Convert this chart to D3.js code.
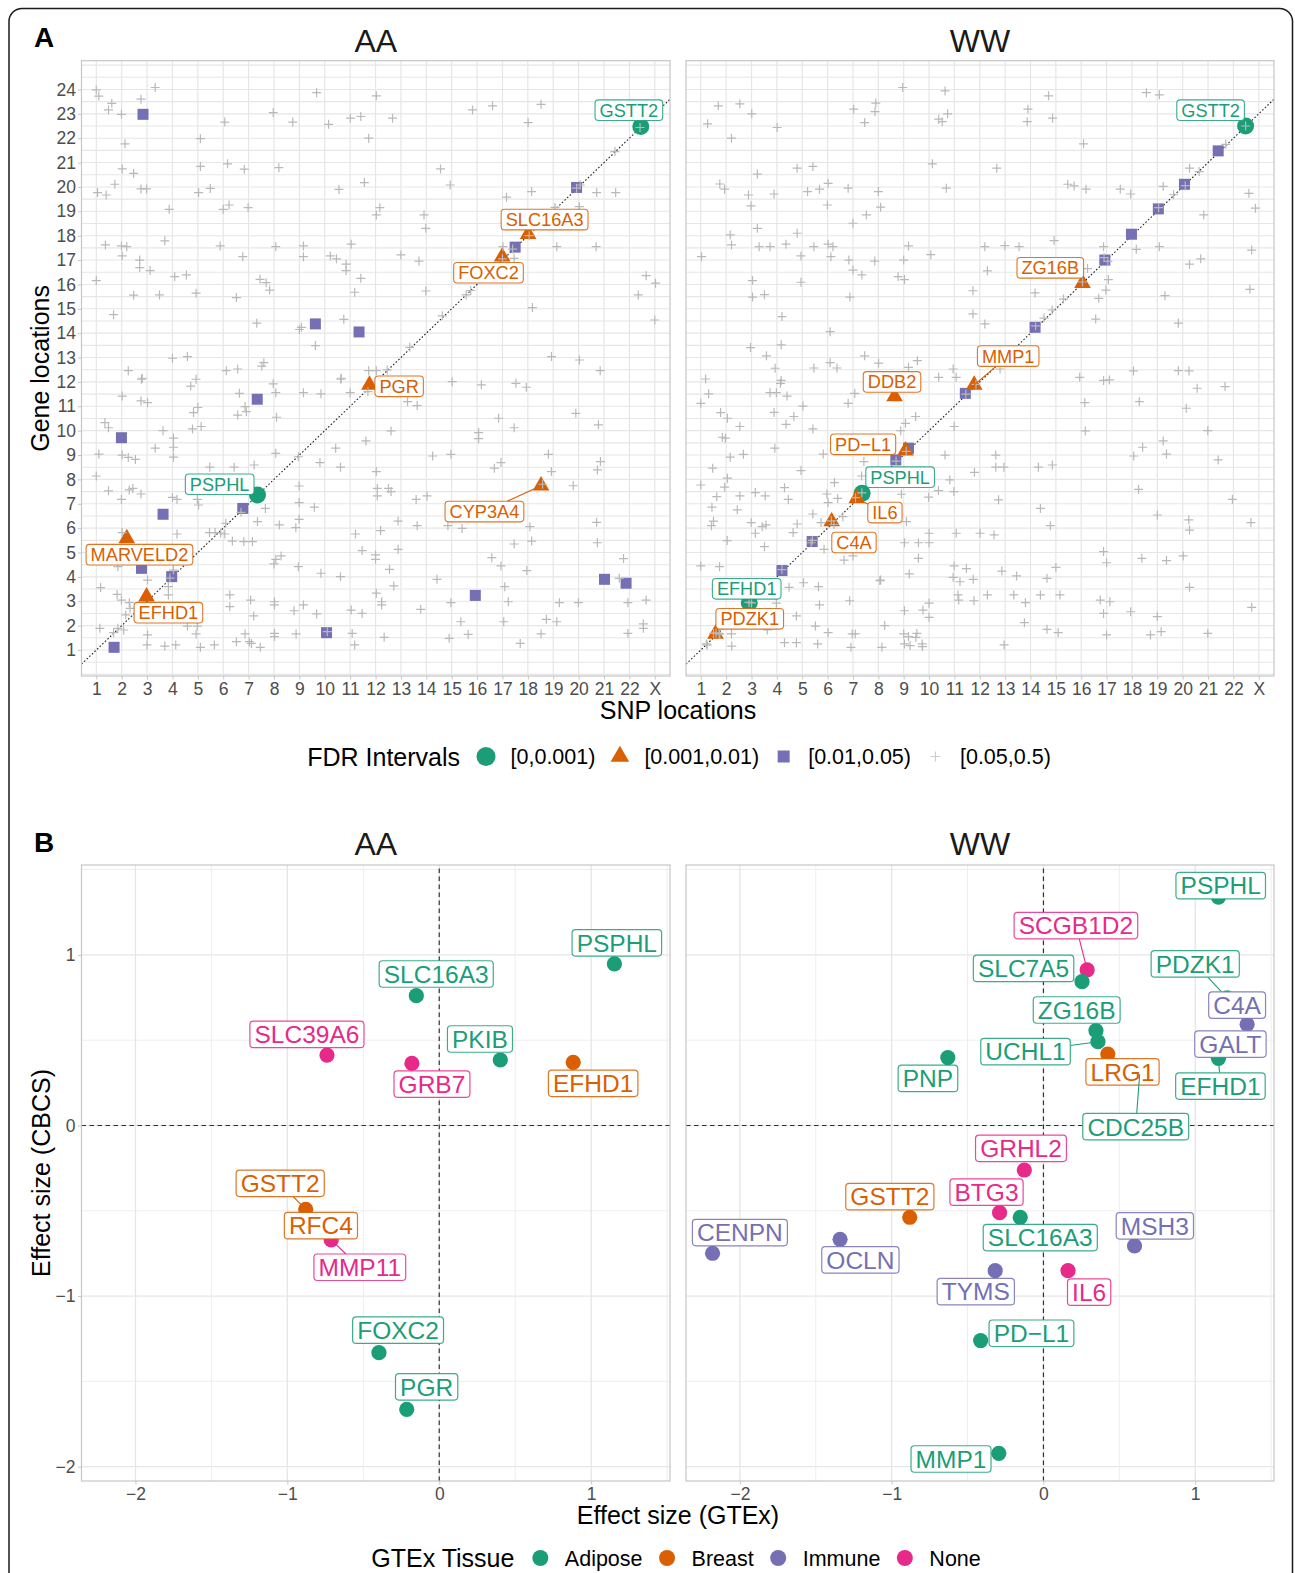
<!DOCTYPE html>
<html><head><meta charset="utf-8">
<script src="https://cdn.jsdelivr.net/npm/d3@7"></script>
<style>
body{margin:0;background:#fff}
svg{display:block}
text{font-family:"Liberation Sans",Arial,Helvetica,sans-serif}
</style>
</head><body>
<svg id="chart" width="1295" height="1573"></svg>
<script>
// ---------------- DATA ----------------
const xTickLabels = ["1","2","3","4","5","6","7","8","9","10","11","12","13","14","15","16","17","18","19","20","21","22","X"];
const yTickValuesA = d3.range(1, 25);
const fdrLevels = ["[0,0.001)", "[0.001,0.01)", "[0.01,0.05)", "[0.05,0.5)"];
const tissues = ["Adipose", "Breast", "Immune", "None"];
const bTicks = [-2, -1, 0, 1];

// Panel A, AA: significant eQTL (gene, FDR level index, SNP location, gene location)
const aaSig = [
  ["GSTT2",0,22.45,22.48],["PSPHL",0,7.35,7.36],
  ["MARVELD2",1,2.2,5.58],["EFHD1",1,2.98,3.19],["PGR",1,11.76,11.88],
  ["FOXC2",1,16.99,17.14],["SLC16A3",1,18.01,18.06],["CYP3A4",1,18.52,7.74]
];
const aaSquares = [[2.84,22.98],[9.63,14.38],[11.35,14.05],[17.5,17.53],[19.92,19.98],[1.99,9.71],[7.34,11.29],[3.63,6.57],[6.77,6.81],[2.78,4.35],[3.97,4.01],[1.7,1.11],[10.07,1.71],[15.93,3.24],[21.02,3.9],[21.87,3.74]];
const aaCross = [[1.0,23.98],[1.1,23.73],[1.61,23.43],[1.48,23.16],[1.99,22.98],[2.76,23.6],[3.32,24.08],[2.13,21.77],[2.02,20.74],[2.47,20.56],[1.73,20.11],[1.05,19.77],[1.39,19.67],[2.76,19.92],[2.98,19.92],[3.87,19.08],[1.36,17.62],[1.99,17.58],[2.2,17.55],[2.02,17.17],[2.71,17.0],[2.71,16.69],[3.12,16.57],[3.7,17.79],[1.0,16.16],[1.68,14.76],[2.47,15.56],[3.49,15.57],[4.09,16.32],[4.55,16.39],[4.93,15.64],[5.1,21.98],[5.1,20.84],[5.03,19.77],[5.49,19.94],[6.06,22.66],[6.17,20.95],[6.0,19.08],[6.23,19.26],[6.83,20.73],[6.98,19.15],[5.88,17.58],[6.77,17.14],[6.52,15.46],[7.83,15.77],[7.32,14.41],[7.97,23.05],[8.74,22.66],[8.19,20.79],[8.07,17.55],[9.16,17.58],[9.16,17.14],[7.45,16.21],[7.69,16.07],[9.68,23.87],[10.15,22.57],[11.01,22.82],[11.42,22.89],[11.73,22.0],[12.03,23.74],[12.67,22.82],[10.56,19.9],[11.56,20.18],[12.17,19.15],[12.03,18.85],[10.22,17.17],[10.46,17.05],[10.84,16.83],[10.84,16.57],[11.04,17.65],[11.42,16.25],[11.18,15.68],[10.75,14.57],[9.08,14.24],[9.0,14.15],[9.63,13.49],[13.0,17.21],[13.71,16.96],[13.91,18.85],[13.98,18.3],[13.98,15.73],[14.56,20.74],[14.94,20.08],[15.82,23.16],[16.61,23.33],[18.01,22.64],[18.52,23.39],[17.16,19.58],[18.15,19.81],[17.02,17.55],[17.4,17.45],[17.46,17.07],[17.0,17.05],[18.05,18.0],[18.18,15.05],[19.14,17.55],[19.07,19.16],[20.03,19.19],[19.92,19.95],[20.06,20.08],[20.69,17.55],[20.71,19.77],[21.46,19.77],[21.43,21.45],[22.42,22.44],[22.66,16.36],[23.03,16.05],[22.35,15.57],[23.0,14.54],[15.57,15.57],[15.75,15.75],[14.63,14.71],[13.35,13.42],[18.93,13.04],[20.03,12.9],[20.85,12.46],[4.0,12.97],[4.59,13.04],[2.26,12.46],[2.81,12.15],[6.12,12.46],[6.57,12.53],[7.52,12.65],[7.6,12.79],[11.73,12.46],[12.03,12.46],[12.46,12.49],[10.65,12.15],[2.78,12.11],[2.02,11.42],[2.76,11.22],[3.02,11.15],[4.72,11.83],[4.93,12.11],[7.97,11.92],[8.07,11.56],[9.16,11.56],[9.85,11.51],[10.63,12.11],[11.0,11.56],[11.7,11.6],[13.26,11.19],[13.64,11.03],[15.02,12.01],[16.17,11.88],[17.53,11.94],[17.94,11.78],[1.34,10.33],[1.48,10.12],[1.1,9.04],[1.0,8.14],[2.02,9.0],[2.26,8.9],[2.54,8.82],[1.48,7.53],[2.3,7.57],[2.44,7.63],[2.76,7.4],[1.99,7.18],[3.63,10.0],[3.32,9.28],[4.04,9.69],[4.04,9.32],[4.04,8.91],[4.83,10.74],[5.13,10.17],[4.79,10.07],[5.0,10.95],[4.0,7.26],[4.18,7.18],[4.98,7.18],[5.03,6.95],[5.47,8.5],[6.43,8.5],[4.18,5.76],[5.46,5.82],[5.68,5.82],[6.06,5.76],[6.36,5.47],[6.81,5.45],[7.15,5.45],[6.57,10.64],[6.91,10.78],[6.86,10.99],[6.64,11.53],[8.1,10.55],[7.22,8.59],[7.35,6.27],[7.66,6.81],[8.21,6.13],[8.07,9.07],[8.99,7.73],[8.99,7.05],[8.99,6.36],[8.86,6.02],[8.96,8.93],[9.81,8.69],[10.43,9.28],[10.62,8.5],[9.59,6.86],[11.21,5.76],[11.47,5.08],[12.0,4.9],[12.0,4.72],[12.55,4.31],[12.72,3.63],[12.89,5.13],[12.03,8.32],[12.07,7.63],[12.07,7.32],[12.51,7.63],[12.61,7.5],[12.2,5.9],[12.89,6.29],[11.62,9.58],[12.61,9.99],[13.6,7.18],[14.03,7.32],[13.64,6.1],[14.25,8.96],[14.97,9.03],[14.85,6.1],[15.41,5.99],[14.42,3.9],[14.97,2.94],[15.36,2.16],[14.9,1.48],[15.65,1.64],[16.06,9.92],[16.06,9.67],[16.68,8.46],[16.94,8.69],[16.85,10.51],[17.46,10.12],[16.58,4.79],[16.94,4.45],[17.46,5.35],[18.08,6.06],[18.15,5.47],[17.96,4.26],[17.09,3.6],[17.23,2.98],[17.05,2.16],[17.7,1.27],[18.52,1.66],[18.73,2.26],[19.14,2.16],[19.24,2.94],[19.99,2.94],[18.58,7.8],[18.81,9.03],[18.93,8.32],[19.79,7.74],[19.89,10.71],[20.78,10.24],[20.86,8.73],[20.74,8.39],[20.71,6.24],[20.74,5.4],[21.77,4.75],[21.6,3.94],[21.94,2.94],[21.94,1.68],[22.66,3.05],[22.55,2.07],[22.55,1.89],[1.17,3.56],[1.82,3.28],[1.99,3.05],[2.3,2.94],[2.33,2.71],[2.16,2.44],[1.14,1.89],[1.68,1.71],[1.85,1.89],[2.08,1.82],[1.85,4.42],[2.02,5.82],[3.02,3.87],[3.84,3.26],[3.84,3.6],[4.04,4.28],[3.9,3.95],[3.02,1.62],[3.0,1.21],[3.7,1.16],[4.13,1.21],[4.59,1.98],[4.98,1.98],[4.93,1.66],[5.1,1.11],[5.65,1.21],[5.9,5.8],[6.1,6.2],[6.7,6.65],[6.26,3.26],[6.26,2.78],[6.52,1.34],[7.03,1.34],[7.11,1.27],[6.86,1.66],[7.46,1.11],[7.08,3.05],[7.2,2.4],[8.02,1.68],[8.02,1.55],[8.02,2.98],[8.02,2.85],[8.0,4.53],[8.07,4.72],[8.28,4.86],[8.79,2.61],[9.16,2.85],[8.87,1.66],[8.96,4.42],[9.68,2.48],[9.85,4.15],[10.62,4.01],[10.1,1.75],[11.04,2.64],[11.47,2.5],[11.08,1.68],[11.18,1.21],[12.03,3.33],[12.24,2.98],[12.24,2.85],[12.34,1.52],[13.78,2.67]];
const aaLabels = [["GSTT2",21.98,23.15],["SLC16A3",18.66,18.66],["FOXC2",16.45,16.48],["PGR",12.93,11.82],["PSPHL",5.86,7.8],["CYP3A4",16.29,6.68],["MARVELD2",2.7,4.91],["EFHD1",3.84,2.53]];

// Panel A, WW
const wwSig = [
  ["GSTT2",0,22.48,22.5],["PSPHL",0,7.36,7.43],["EFHD1",0,2.91,2.94],
  ["ZG16B",1,16.05,16.05],["MMP1",1,11.78,11.88],["DDB2",1,8.64,11.4],["PD\u2212L1",1,9.07,9.18],
  ["IL6",1,7.15,7.22],["C4A",1,6.16,6.27],["PDZK1",1,1.58,1.66]
];
const wwSquares = [[21.4,21.48],[20.07,20.11],[19.04,19.1],[17.98,18.06],[16.93,17.0],[14.18,14.24],[11.43,11.53],[9.19,9.28],[8.69,8.8],[5.39,5.45],[4.2,4.26]];
const wwCross = [[8.96,24.08],[10.63,23.94],[1.69,23.33],[2.54,23.41],[3.01,23.0],[1.27,22.59],[2.21,22.0],[4.01,22.44],[7.03,23.19],[7.9,23.44],[7.87,23.09],[7.46,22.64],[10.38,22.78],[10.52,22.68],[10.73,23.0],[13.9,23.19],[13.87,22.68],[14.87,22.82],[14.71,23.74],[18.57,23.87],[19.08,23.78],[16.09,21.77],[10.13,20.95],[12.67,20.77],[4.8,20.77],[5.42,20.84],[3.23,20.53],[1.75,20.12],[1.94,19.91],[2.88,19.67],[3.89,19.71],[5.21,19.81],[5.68,19.91],[6.02,20.15],[6.81,19.95],[8.0,19.81],[10.68,19.95],[15.47,20.11],[15.72,20.04],[16.19,19.91],[17.54,19.91],[17.95,19.71],[19.23,20.02],[22.61,19.74],[22.87,19.13],[20.83,18.85],[2.98,19.22],[5.99,19.26],[7.53,18.85],[8.09,19.17],[7.0,18.51],[3.23,18.3],[2.16,18.03],[2.21,17.62],[3.3,17.55],[3.73,17.55],[4.36,17.65],[5.46,17.55],[6.02,17.65],[6.21,17.55],[4.95,17.17],[6.13,17.14],[1.03,17.14],[4.8,18.1],[9.19,17.58],[6.84,17.0],[7.86,16.96],[9.0,17.0],[7.0,16.59],[7.35,16.39],[8.78,16.32],[9.03,16.2],[3.04,16.16],[4.95,16.09],[3.04,15.48],[3.51,15.58],[6.88,15.48],[10.07,17.22],[12.2,17.55],[12.99,17.59],[13.55,17.55],[14.93,17.8],[12.3,16.56],[11.73,15.74],[14.18,15.65],[11.73,14.79],[12.2,14.38],[16.57,14.58],[16.88,17.55],[18.17,17.44],[19.08,17.55],[20.27,16.83],[20.71,17.05],[22.72,17.41],[17.07,16.2],[16.97,15.77],[16.69,15.43],[19.3,15.54],[19.83,14.41],[22.65,15.8],[19.64,19.68],[20.27,20.77],[20.65,20.63],[16.25,16.65],[14.53,14.62],[14.85,14.95],[15.3,15.4],[22.48,22.5],[21.7,21.75],[20.1,20.05],[19.05,19.15],[16.9,17.1],[17.05,16.95],[16.05,16.1],[14.2,14.3],[11.45,11.5],[11.85,11.9],[9.1,9.15],[8.7,8.75],[7.35,7.45],[7.1,7.25],[6.15,6.3],[6.25,6.15],[5.4,5.5],[5.35,5.4],[4.2,4.3],[2.9,2.95],[3.0,2.93],[1.6,1.7],[1.75,1.65],[1.25,1.2],[4.2,14.68],[6.1,14.06],[2.96,13.41],[3.59,13.07],[4.17,13.52],[3.93,12.56],[7.46,13.07],[8.01,12.77],[9.54,12.87],[5.46,12.57],[6.1,12.79],[6.37,12.57],[9.19,12.6],[4.17,12.06],[1.19,12.12],[12.8,12.53],[15.94,12.19],[16.88,12.06],[17.11,12.08],[18.06,12.45],[19.83,12.46],[20.25,12.45],[20.57,11.74],[21.67,11.81],[10.95,12.53],[10.38,12.19],[11.07,12.19],[1.31,11.51],[1.0,11.12],[4.14,11.94],[3.73,11.56],[3.98,11.56],[4.4,11.42],[1.78,10.74],[2.05,10.51],[2.54,10.17],[1.85,9.73],[1.97,9.69],[3.89,10.75],[4.36,10.26],[4.67,10.58],[5.03,11.01],[5.42,10.07],[3.92,9.28],[2.16,8.91],[2.68,9.03],[1.47,8.46],[2.05,8.05],[1.94,7.68],[1.0,7.77],[1.63,7.29],[2.54,7.32],[3.15,7.46],[3.54,7.32],[4.3,7.66],[4.45,7.18],[1.44,6.86],[2.44,6.75],[1.5,6.29],[1.42,6.1],[2.99,6.23],[3.42,6.06],[3.57,6.13],[3.15,5.79],[4.8,6.17],[4.64,5.82],[2.04,5.49],[3.51,5.24],[5.42,6.58],[4.95,8.36],[5.83,9.04],[6.81,11.12],[7.07,11.53],[8.88,10.0],[9.07,10.3],[9.47,10.58],[7.43,8.73],[7.97,8.14],[7.34,8.14],[6.27,7.87],[5.97,7.4],[6.4,7.22],[6.02,7.05],[5.74,6.23],[6.6,6.47],[6.65,4.69],[7.0,4.86],[5.86,5.13],[8.91,7.39],[9.11,6.27],[9.03,5.4],[9.58,5.4],[10.0,5.4],[10.0,5.79],[9.58,4.76],[9.22,4.12],[8.06,3.85],[9.98,7.27],[10.37,7.54],[10.82,7.98],[10.98,7.5],[10.63,9.0],[10.99,10.17],[11.79,8.29],[12.63,9.0],[12.63,8.5],[12.95,8.5],[11.07,5.79],[12.01,5.79],[12.56,5.72],[10.99,4.45],[11.47,4.34],[10.95,3.98],[11.22,3.8],[11.74,3.9],[11.14,3.26],[12.3,3.26],[11.17,3.05],[11.77,3.02],[12.74,7.16],[14.31,8.5],[14.86,8.59],[14.39,6.81],[14.78,6.1],[16.16,9.99],[16.14,11.15],[18.29,11.19],[18.07,8.96],[18.42,9.32],[19.23,9.58],[19.36,9.04],[18.26,7.59],[20.14,10.92],[20.99,10.0],[21.4,8.8],[21.96,7.18],[19.0,6.54],[20.24,6.34],[20.27,5.92],[22.69,6.23],[16.88,5.04],[17.0,4.58],[18.39,4.76],[19.36,4.67],[20.02,4.86],[15.0,4.39],[12.87,4.24],[13.45,4.04],[14.65,3.94],[20.27,3.57],[13.34,3.26],[13.8,2.94],[14.39,3.26],[15.16,3.26],[16.75,3.05],[17.13,2.98],[16.88,2.5],[17.95,2.57],[19.0,2.37],[13.76,2.12],[14.65,1.85],[15.09,1.71],[17.0,1.62],[18.73,1.62],[19.15,1.75],[20.99,1.68],[22.72,2.75],[12.96,1.21],[9.03,2.61],[9.76,2.64],[10.0,2.92],[10.0,2.34],[8.25,2.0],[9.0,1.66],[9.19,1.55],[9.03,1.25],[9.25,1.18],[9.74,1.14],[9.52,1.68],[9.48,1.52],[9.73,1.25],[8.14,1.11],[6.92,1.11],[6.97,1.66],[7.09,1.66],[6.02,1.71],[5.61,1.25],[5.52,1.98],[6.87,3.02],[8.09,3.87],[4.3,1.3],[4.77,1.3],[4.77,2.4],[5.68,2.85],[5.64,3.6],[4.48,3.57],[5.05,3.76],[3.98,2.92],[3.62,1.82],[2.21,1.66],[2.22,1.16],[1.72,1.68],[1.5,1.68],[1.22,1.25],[1.0,4.45],[1.74,4.42]];
const wwLabels = [["GSTT2",21.1,23.15],["ZG16B",14.78,16.68],["MMP1",13.12,13.06],["DDB2",8.54,12.0],["PD\u2212L1",7.4,9.44],["PSPHL",8.86,8.09],["IL6",8.26,6.64],["C4A",7.04,5.41],["EFHD1",2.81,3.51],["PDZK1",2.93,2.28]];
const aSegments = {AA: ["CYP3A4"], WW: ["MMP1", "IL6"]};

// Panel B: (gene, tissue index, effect size GTEx, effect size CBCS)
const bAA = [["PSPHL",0,1.153,0.947],["SLC16A3",0,-0.151,0.761],["SLC39A6",3,-0.739,0.413],["GRB7",3,-0.18,0.364],["PKIB",0,0.402,0.384],["EFHD1",1,0.882,0.37],["GSTT2",1,-0.879,-0.491],["RFC4",1,-0.78,-0.587],["MMP11",3,-0.711,-0.671],["FOXC2",0,-0.397,-1.332],["PGR",0,-0.214,-1.664]];
const bAALabels = [["PSPHL",1.169,1.071],["SLC16A3",-0.02,0.888],["SLC39A6",-0.871,0.534],["PKIB",0.268,0.507],["GRB7",-0.048,0.243],["EFHD1",1.013,0.247],["GSTT2",-1.047,-0.339],["RFC4",-0.779,-0.587],["MMP11",-0.523,-0.831],["FOXC2",-0.271,-1.2],["PGR",-0.083,-1.532]];
const bWW = [["PSPHL",0,1.153,1.338],["SCGB1D2",3,0.288,0.912],["SLC7A5",0,0.254,0.843],["PDZK1",0,1.211,0.748],["C4A",2,1.342,0.593],["ZG16B",0,0.346,0.556],["GALT",2,1.237,0.482],["UCHL1",0,0.359,0.491],["PNP",0,-0.63,0.398],["LRG1",1,0.424,0.419],["EFHD1",0,1.153,0.394],["CDC25B",0,0.634,0.3],["GRHL2",3,-0.126,-0.261],["BTG3",3,-0.289,-0.511],["GSTT2",1,-0.881,-0.538],["CENPN",2,-2.18,-0.749],["SLC16A3",0,-0.153,-0.538],["MSH3",2,0.6,-0.706],["OCLN",2,-1.34,-0.667],["TYMS",2,-0.318,-0.851],["IL6",3,0.162,-0.851],["PD\u2212L1",0,-0.414,-1.261],["MMP1",0,-0.294,-1.922]];
const bWWLabels = [["PSPHL",1.168,1.406],["SCGB1D2",0.214,1.172],["SLC7A5",-0.131,0.921],["PDZK1",1.0,0.947],["C4A",1.276,0.706],["ZG16B",0.219,0.677],["GALT",1.232,0.477],["UCHL1",-0.118,0.433],["PNP",-0.761,0.276],["LRG1",0.521,0.314],["EFHD1",1.166,0.231],["CDC25B",0.608,-0.007],["GRHL2",-0.148,-0.134],["BTG3",-0.375,-0.391],["GSTT2",-1.012,-0.417],["CENPN",-2.0,-0.628],["SLC16A3",-0.021,-0.657],["MSH3",0.734,-0.588],["OCLN",-1.206,-0.788],["TYMS",-0.446,-0.974],["IL6",0.301,-0.977],["PD\u2212L1",-0.079,-1.218],["MMP1",-0.609,-1.955]];
const bSegments = {AA: ["GSTT2", "MMP11"], WW: ["SCGB1D2", "PDZK1", "UCHL1", "EFHD1", "CDC25B"]};

// ---------------- STYLE / LAYOUT ----------------
const fdrColors = ["#1B9E77", "#D95F02", "#7570B3", "#B9B9B9"];
const tissueColors = ["#1B9E77", "#D95F02", "#7570B3", "#E7298A"];
const panelsX = {AA: [81.5, 670], WW: [686, 1274]};
const aY = [676, 60.7], bY = [1481, 865];
const aXDom = [0.417, 23.6], aYDom = [-0.067, 25.18];
const bXDom = [-2.355, 1.519], bYDom = [-2.084, 1.527];
const tickCol = "#4D4D4D", gridCol = "#E6E6E6", borderCol = "#C6C6C6";

const svg = d3.select("#chart");
svg.append("rect").attr("width",1295).attr("height",1573).attr("fill","#fff");
svg.append("rect").attr("x",9).attr("y",8.5).attr("width",1283.5).attr("height",1640)
  .attr("rx",13).attr("fill","none").attr("stroke","#1a1a1a").attr("stroke-width",1.5);

function addClip(id, x0, x1, y0, y1) {
  svg.append("clipPath").attr("id", id).append("rect")
    .attr("x", x0).attr("y", y1).attr("width", x1 - x0).attr("height", y0 - y1);
}

function drawLabel(g, text, cx, cy, color, fs, padX, h, pt, ptR, withSeg, boxStroke) {
  const grp = g.append("g");
  const segLine = grp.append("line");
  const rect = grp.append("rect");
  const t = grp.append("text").attr("x", cx).attr("y", cy).attr("dy", "0.36em")
    .attr("text-anchor", "middle").style("font-size", fs + "px").attr("fill", color).text(text);
  const w = t.node().getComputedTextLength() + 2 * padX;
  const rx0 = cx - w / 2, ry0 = cy - h / 2;
  rect.attr("x", rx0).attr("y", ry0).attr("width", w).attr("height", h).attr("rx", 3.5)
    .attr("fill", "#fff").attr("stroke", color).attr("stroke-width", boxStroke).attr("stroke-opacity", 0.85);
  if (withSeg && pt) {
    // end where the line from the point to the box centre crosses the box edge
    const dx = cx - pt[0], dy = cy - pt[1];
    const tx = dx !== 0 ? (Math.abs(dx) - w / 2) / Math.abs(dx) : -Infinity;
    const ty = dy !== 0 ? (Math.abs(dy) - h / 2) / Math.abs(dy) : -Infinity;
    const tt = Math.max(0, Math.max(tx, ty));
    segLine.attr("x1", pt[0]).attr("y1", pt[1]).attr("x2", pt[0] + dx * tt).attr("y2", pt[1] + dy * tt)
      .attr("stroke", color).attr("stroke-width", 1.1);
  } else segLine.remove();
}

// ---------------- PANEL A ----------------
function panelA(key, sig, squares, cross, labels, segs) {
  const [x0, x1] = panelsX[key];
  const x = d3.scaleLinear().domain(aXDom).range([x0, x1]);
  const y = d3.scaleLinear().domain(aYDom).range(aY);
  const g = svg.append("g");
  g.selectAll(".hg").data(d3.range(0, 25.01, 0.5)).join("line")
    .attr("x1", x0).attr("x2", x1).attr("y1", d => y(d)).attr("y2", d => y(d))
    .attr("stroke", gridCol).attr("stroke-width", 1.1);
  g.selectAll(".vg").data(d3.range(1, 24)).join("line")
    .attr("y1", aY[0]).attr("y2", aY[1]).attr("x1", d => x(d)).attr("x2", d => x(d))
    .attr("stroke", gridCol).attr("stroke-width", 1.2);
  const xa = g.append("g").attr("transform", `translate(0,${aY[0]})`)
    .call(d3.axisBottom(x).tickValues(d3.range(1, 24)).tickFormat((d, i) => xTickLabels[i]).tickSize(3.5).tickPadding(2.6));
  const ya = g.append("g").attr("transform", `translate(${x0},0)`)
    .call(d3.axisLeft(y).tickValues(key === "AA" ? yTickValuesA : []).tickSize(3.5).tickPadding(2));
  [xa, ya].forEach(a => {
    a.select(".domain").remove();
    a.selectAll("line").attr("stroke", borderCol);
    a.selectAll("text").attr("fill", tickCol).style("font-size", "17.5px")
      .style("font-family", "'Liberation Sans',Arial,sans-serif");
  });
  addClip("clipA" + key, x0, x1, aY[0], aY[1]);
  const inner = g.append("g").attr("clip-path", `url(#clipA${key})`);
  const lo = Math.max(aXDom[0], aYDom[0]), hi = Math.min(aXDom[1], aYDom[1]);
  inner.append("line").attr("x1", x(lo)).attr("y1", y(lo)).attr("x2", x(hi)).attr("y2", y(hi))
    .attr("stroke", "#222").attr("stroke-width", 1.1).attr("stroke-dasharray", "1.6,2");
  inner.selectAll(".sq").data(squares).join("rect")
    .attr("x", d => x(d[0]) - 5.5).attr("y", d => y(d[1]) - 5.5).attr("width", 11).attr("height", 11)
    .attr("fill", fdrColors[2]);
  const tri = d3.symbol().type(d3.symbolTriangle).size(120);
  inner.selectAll(".sig").data(sig).join("path")
    .attr("transform", d => `translate(${x(d[2])},${y(d[3])})`)
    .attr("d", d => d[1] === 0 ? d3.symbol().type(d3.symbolCircle).size(Math.PI * 8.5 * 8.5)() : tri())
    .attr("fill", d => fdrColors[d[1]]);
  inner.selectAll(".cr").data(cross).join("path")
    .attr("transform", d => `translate(${x(d[0])},${y(d[1])})`)
    .attr("d", "M-4.5,0H4.5M0,-4.5V4.5").attr("stroke", fdrColors[3]).attr("stroke-width", 1.2).attr("fill", "none");
  g.append("rect").attr("x", x0).attr("y", aY[1]).attr("width", x1 - x0).attr("height", aY[0] - aY[1])
    .attr("fill", "none").attr("stroke", borderCol).attr("stroke-width", 1.2);
  const lg = svg.append("g");
  labels.forEach(l => {
    const s = sig.find(d => d[0] === l[0]);
    drawLabel(lg, l[0], x(l[1]), y(l[2]), fdrColors[s[1]], 18.2, 4.5, 20.6,
      [x(s[2]), y(s[3])], 8, segs.includes(l[0]), 1.1);
  });
  svg.append("text").attr("x", (x0 + x1) / 2).attr("y", 51.5).attr("text-anchor", "middle")
    .style("font-size", "32px").attr("fill", "#1a1a1a").text(key);
}
panelA("AA", aaSig, aaSquares, aaCross, aaLabels, aSegments.AA);
panelA("WW", wwSig, wwSquares, wwCross, wwLabels, aSegments.WW);

// ---------------- PANEL B ----------------
function panelB(key, pts, labels, segs) {
  const [x0, x1] = panelsX[key];
  const x = d3.scaleLinear().domain(bXDom).range([x0, x1]);
  const y = d3.scaleLinear().domain(bYDom).range(bY);
  const g = svg.append("g");
  const half = d3.range(-2, 1.51, 0.5);
  g.selectAll(".hg").data(half).join("line")
    .attr("x1", x0).attr("x2", x1).attr("y1", d => y(d)).attr("y2", d => y(d))
    .attr("stroke", d => Number.isInteger(d) ? gridCol : "#EEEEEE").attr("stroke-width", d => Number.isInteger(d) ? 1.3 : 1.0);
  g.selectAll(".vg").data(half).join("line")
    .attr("y1", bY[0]).attr("y2", bY[1]).attr("x1", d => x(d)).attr("x2", d => x(d))
    .attr("stroke", d => Number.isInteger(d) ? gridCol : "#EEEEEE").attr("stroke-width", d => Number.isInteger(d) ? 1.3 : 1.0);
  const fmt = d => d < 0 ? "\u2212" + Math.abs(d) : String(d);
  const xa = g.append("g").attr("transform", `translate(0,${bY[0]})`)
    .call(d3.axisBottom(x).tickValues(bTicks).tickFormat(fmt).tickSize(3.5).tickPadding(2.6));
  const ya = g.append("g").attr("transform", `translate(${x0},0)`)
    .call(d3.axisLeft(y).tickValues(key === "AA" ? bTicks : []).tickFormat(fmt).tickSize(3.5).tickPadding(2.5));
  [xa, ya].forEach(a => {
    a.select(".domain").remove();
    a.selectAll("line").attr("stroke", borderCol);
    a.selectAll("text").attr("fill", tickCol).style("font-size", "17.5px")
      .style("font-family", "'Liberation Sans',Arial,sans-serif");
  });
  g.append("line").attr("x1", x0).attr("x2", x1).attr("y1", y(0)).attr("y2", y(0))
    .attr("stroke", "#333").attr("stroke-width", 1.2).attr("stroke-dasharray", "4.5,3.5");
  g.append("line").attr("x1", x(0)).attr("x2", x(0)).attr("y1", bY[0]).attr("y2", bY[1])
    .attr("stroke", "#333").attr("stroke-width", 1.2).attr("stroke-dasharray", "4.5,3.5");
  g.selectAll(".pt").data(pts).join("circle")
    .attr("cx", d => x(d[2])).attr("cy", d => y(d[3])).attr("r", 7.6)
    .attr("fill", d => tissueColors[d[1]]);
  g.append("rect").attr("x", x0).attr("y", bY[1]).attr("width", x1 - x0).attr("height", bY[0] - bY[1])
    .attr("fill", "none").attr("stroke", borderCol).attr("stroke-width", 1.2);
  const lg = svg.append("g");
  labels.forEach(l => {
    const p = pts.find(d => d[0] === l[0]);
    drawLabel(lg, l[0], x(l[1]), y(l[2]), tissueColors[p[1]], 24.5, 4.6, 26.5,
      [x(p[2]), y(p[3])], 7.6, segs.includes(l[0]), 1.2);
  });
  svg.append("text").attr("x", (x0 + x1) / 2).attr("y", 854.5).attr("text-anchor", "middle")
    .style("font-size", "32px").attr("fill", "#1a1a1a").text(key);
}
panelB("AA", bAA, bAALabels, bSegments.AA);
panelB("WW", bWW, bWWLabels, bSegments.WW);

// ---------------- TITLES / TAGS ----------------
function txt(x, y, s, size, opts = {}) {
  const t = svg.append("text").attr("x", x).attr("y", y).style("font-size", size + "px")
    .attr("fill", opts.fill || "#000").attr("text-anchor", opts.anchor || "middle").text(s);
  if (opts.bold) t.style("font-weight", "bold");
  if (opts.rotate) t.attr("transform", `rotate(-90,${x},${y})`);
  return t;
}
txt(34, 46.5, "A", 28, {anchor: "start", bold: true});
txt(34, 851.5, "B", 28, {anchor: "start", bold: true});
txt(678, 719, "SNP locations", 25);
txt(678, 1524, "Effect size (GTEx)", 25);
txt(49.5, 368.4, "Gene locations", 25, {rotate: true});
txt(49.5, 1173, "Effect size (CBCS)", 25, {rotate: true});

// ---------------- LEGENDS ----------------
function legend(cy, title, items, drawKey, center) {
  const g = svg.append("g");
  const tt = g.append("text").attr("x", 0).attr("y", cy + 9).style("font-size", "25px").attr("fill", "#000").text(title);
  let cur = tt.node().getComputedTextLength();
  items.forEach((it, i) => {
    const kx = cur + (i === 0 ? 26 : 24.5);
    drawKey(g, kx, cy, i);
    const t = g.append("text").attr("x", kx + 24.5).attr("y", cy + 7.7).style("font-size", "21.5px")
      .attr("fill", "#000").text(it);
    cur = kx + 24.5 + t.node().getComputedTextLength();
  });
  g.attr("transform", `translate(${center - cur / 2},0)`);
}
legend(756.5, "FDR Intervals", fdrLevels, (g, kx, cy, i) => {
  if (i === 0) g.append("circle").attr("cx", kx).attr("cy", cy).attr("r", 9.5).attr("fill", fdrColors[0]);
  else if (i === 1) g.append("path").attr("transform", `translate(${kx},${cy})`)
    .attr("d", d3.symbol().type(d3.symbolTriangle).size(150)()).attr("fill", fdrColors[1]);
  else if (i === 2) g.append("rect").attr("x", kx - 6).attr("y", cy - 6).attr("width", 12).attr("height", 12).attr("fill", fdrColors[2]);
  else g.append("path").attr("transform", `translate(${kx},${cy})`).attr("d", "M-5,0H5M0,-5V5")
    .attr("stroke", "#CDCDCD").attr("stroke-width", 1.2);
}, 679);
legend(1558, "GTEx Tissue", tissues, (g, kx, cy, i) => {
  g.append("circle").attr("cx", kx).attr("cy", cy).attr("r", 8).attr("fill", tissueColors[i]);
}, 676);
</script>
</body></html>
